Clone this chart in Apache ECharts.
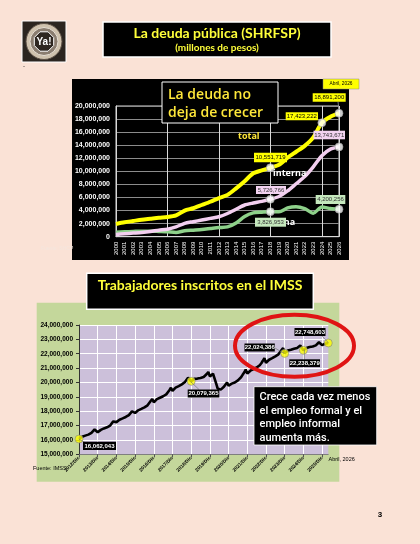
<!DOCTYPE html>
<html><head><meta charset="utf-8">
<script src="https://cdn.jsdelivr.net/npm/echarts@6/dist/echarts.min.js"></script>
<style>html,body{margin:0;padding:0;background:#FAE2D6;}#c{width:420px;height:544px;}</style>
</head><body><div id="c"></div>
<script>
// ---------- Chart 1 data: SHRFSP (millones de pesos), values in millions of the axis unit ----------
var years = ['2000','2001','2002','2003','2004','2005','2006','2007','2008','2009','2010','2011','2012','2013','2014','2015','2016','2017','2018','2019','2020','2021','2022','2023','2024','2025','2026'];
var deudaTotal   = [1.95,2.2,2.4,2.6,2.75,2.9,3.0,3.25,4.0,4.35,4.85,5.35,5.9,6.4,7.4,8.5,9.7,10.15,10.551719,11.0,12.1,13.0,13.9,15.2,17.423222,18.35,18.8912];
var deudaInterna = [0.35,0.45,0.55,0.65,0.8,1.0,1.15,1.5,2.05,2.3,2.55,2.8,3.05,3.55,4.2,4.85,5.15,5.4,5.726766,6.15,7.0,8.1,9.2,10.7,12.4,13.4,13.743671];
var deudaExterna = [0.7,0.75,0.8,0.85,0.85,0.8,0.75,0.65,0.9,1.0,1.1,1.25,1.4,1.5,2.1,3.1,3.65,3.75,3.826953,3.8,4.4,4.6,4.3,3.6,4.55,4.3,4.200256];
var deudaKeyYears  = ['2018','2018','2018','2024','2026','2026','2026'];
var deudaKeyValues = [10.551719,5.726766,3.826953,17.423222,18.8912,13.743671,4.200256];

// ---------- Chart 2 data: Trabajadores inscritos en el IMSS (millions) ----------
var imssYears = ['2012','2013','2014','2015','2016','2017','2018','2019','2020','2021','2022','2023','2024','2025','2026'];
var monthNames = ['Ene','Feb','Mar','Abr','May','Jun','Jul','Ago','Sep','Oct','Nov','Dic'];
var imssWorkers = [
 16.062043,
 16.14,16.22,16.27,16.30,16.33,16.37,16.40,16.49,16.58,16.73,16.82,16.53,
 16.60,16.70,16.76,16.80,16.83,16.88,16.91,17.00,17.12,17.29,17.40,17.24,
 17.30,17.41,17.47,17.50,17.54,17.60,17.64,17.73,17.83,17.99,18.10,17.88,
 17.96,18.06,18.10,18.16,18.20,18.27,18.31,18.41,18.53,18.71,18.85,18.62,
 18.71,18.84,18.90,18.94,18.98,19.04,19.09,19.17,19.25,19.46,19.63,19.42,
 19.53,19.64,19.72,19.75,19.82,19.87,19.93,20.03,20.14,20.33,20.46,20.079365,
 20.14,20.25,20.29,20.27,20.28,20.31,20.35,20.38,20.44,20.59,20.73,20.42,
 20.47,20.61,20.48,19.93,19.58,19.49,19.50,19.59,19.70,19.83,20.00,19.77,
 19.82,19.92,19.97,20.00,20.05,20.15,20.24,20.36,20.53,20.69,20.90,20.62,
 20.68,20.82,20.89,20.93,20.98,21.04,21.10,21.20,21.34,21.51,21.70,21.37,
 21.44,21.58,21.66,21.69,21.74,21.82,21.86,21.96,22.05,22.25,22.39,22.024386,
 22.10,22.22,22.26,22.27,22.30,22.34,22.35,22.40,22.45,22.57,22.65,22.238379,
 22.30,22.40,22.45,22.47,22.48,22.50,22.52,22.58,22.66,22.80,22.90,22.60,
 22.64,22.70,22.72,22.748603
];
var imssKeyMonths = ['2012/Dic','2018/Dic','2023/Dic','2024/Dic','2026/Abr'];
var imssKeyValues = [16.062043,20.079365,22.024386,22.238379,22.748603];

// build month category labels (Dec 2012 .. Apr 2026)
var imssMonths = ['2012/Dic'];
for (var yi = 1; yi < imssYears.length; yi++) {
  var last = (imssYears[yi] === '2026') ? 4 : 12;
  for (var m = 0; m < last; m++) imssMonths.push(imssYears[yi] + '/' + monthNames[m]);
}

function fmt(v){ return Math.round(v*1e6).toLocaleString('en-US'); }

var chart = echarts.init(document.getElementById('c'), null, {renderer:'canvas'});

function R(x,y,w,h,fill,stroke,lw,z){return {type:'rect',silent:true,z:z,shape:{x:x,y:y,width:w,height:h},style:{fill:fill,stroke:stroke||null,lineWidth:lw||0}};}
function T(x,y,text,font,fill,align,z){return {type:'text',silent:true,z:z,x:x,y:y,style:{text:text,font:font,fill:fill,textAlign:align||'left',textVerticalAlign:'middle'}};}
function L(x1,y1,x2,y2,stroke,lw,z){return {type:'line',silent:true,z:z,shape:{x1:x1,y1:y1,x2:x2,y2:y2},style:{stroke:stroke,lineWidth:lw}};}

var Y = '#FFFF3A';
var titleFont = 'bold 14px Lato, sans-serif';
var boxFont = '6px "Liberation Sans", Arial, sans-serif';
var boxFontB = 'bold 6px "Liberation Sans", Arial, sans-serif';
var pinkBox = '#F3D3F1', greenBox = '#C5E8BD';
var noteFont = '500 11px Roboto, sans-serif';

// octagon points
var oct = [];
for (var k = 0; k < 8; k++) { var a = Math.PI/8 + k*Math.PI/4; oct.push([44 + 10.5*Math.cos(a), 41.5 + 10.5*Math.sin(a)]); }

var graphics = [
  // logo
  R(22,21,44,41,'#2b2520','#ffffff',1,100),
  {type:'circle',silent:true,z:101,shape:{cx:44,cy:41.5,r:18},style:{fill:'#cfc2ae',stroke:'#5b4f45',lineWidth:1}},
  {type:'circle',silent:true,z:102,shape:{cx:44,cy:41.5,r:14},style:{fill:'#8a7d70',stroke:'#e8e0d5',lineWidth:1}},
  {type:'polygon',silent:true,z:103,shape:{points:oct},style:{fill:'#2e2721',stroke:'#ffffff',lineWidth:1}},
  T(44,42,'Ya!','bold 10px "Liberation Sans", Arial, sans-serif','#ffffff','center',104),
  T(23,66,'-','6px "Liberation Sans", sans-serif','#333','left',100),

  // title 1
  R(103,22,228,35,'#000000','#ffffff',1.5,100),
  T(217,33,'La deuda pública (SHRFSP)',titleFont,Y,'center',101),
  T(217,48,'(millones de pesos)','bold 10px Lato, sans-serif',Y,'center',101),

  // chart 1 panel (behind)
  R(72,79,277,181,'#000000',null,0,-5),
  T(41,249,'Fuente: SHCP','5px "Liberation Sans", sans-serif','#f4e6de','left',-4),

  // "La deuda no deja de crecer" box
  R(162,82,116,41,'#000000','#ffffff',1,100),
  T(168,95,'La deuda no','600 14px "Open Sans", sans-serif','#FFE83A','left',101),
  T(168,113,'deja de crecer','600 14px "Open Sans", sans-serif','#FFE83A','left',101),

  // series names
  T(238,136,'total','bold 9px "Open Sans", sans-serif','#FFE83A','left',100),
  T(273,173,'interna','bold 9px "Open Sans", sans-serif','#ffffff','left',100),
  T(260,222,'externa','bold 9px "Open Sans", sans-serif','#ffffff','left',100),

  // value labels chart 1
  R(254,152.7,33,9.6,'#FFFF00',null,0,110), T(270.5,157.6,fmt(deudaKeyValues[0]),boxFont,'#000','center',111),
  R(256,186,30,8,pinkBox,null,0,110),       T(271,190,fmt(deudaKeyValues[1]),boxFont,'#333','center',111),
  R(255,217.7,31,9,greenBox,null,0,110),    T(270.5,222.2,fmt(deudaKeyValues[2]),boxFont,'#333','center',111),
  R(285.7,112.3,32.3,8,'#FFFF00',null,0,110), T(301.8,116.3,fmt(deudaKeyValues[3]),boxFont,'#000','center',111),
  L(338,101.7,339,110,'#999',0.8,109),
  R(312.7,93.3,33,8.4,'#FFFF00',null,0,110), T(329.2,97.5,fmt(deudaKeyValues[4]),boxFont,'#000','center',111),
  R(313.5,130.7,31.5,8.6,pinkBox,null,0,110), T(329.2,135,fmt(deudaKeyValues[5]),boxFont,'#333','center',111),
  R(315.7,195,29.6,9,greenBox,null,0,110),  T(330.5,199.5,fmt(deudaKeyValues[6]),boxFont,'#333','center',111),
  R(323,79,36,10,'#FFFF00','#888',0.5,110), T(341,84,'Abril, 2026','4.8px "Liberation Sans", sans-serif','#000','center',111),

  // title 2
  R(86.7,273.3,226.6,36,'#000000','#ffffff',1.5,100),
  T(200,285,'Trabajadores inscritos en el IMSS',titleFont,Y,'center',101),

  // chart 2 green panel
  R(36.7,302.7,302.6,179,'#C4D79B',null,0,-5),
  T(33,468.3,'Fuente: IMSS','5.5px "Liberation Sans", sans-serif','#000','left',100),
  T(328.5,459,'Abril, 2026','5.5px "Liberation Sans", sans-serif','#000','left',100),

  // value labels chart 2
  L(79,439.3,86,443,'#777',0.7,109),
  R(83,441.7,33,8.3,'#000',null,0,110), T(99.5,446,fmt(imssKeyValues[0]),boxFontB,'#fff','center',111),
  L(190.7,381.7,199,389.5,'#777',0.7,109),
  R(187.7,389.5,31.6,8,'#000',null,0,110), T(203.5,393.6,fmt(imssKeyValues[1]),boxFontB,'#fff','center',111),
  L(274,347.5,284,353.3,'#777',0.7,109),
  R(244.5,343.5,30.3,8,'#000',null,0,110), T(259.7,347.6,fmt(imssKeyValues[2]),boxFontB,'#fff','center',111),
  L(304.3,349.3,304.3,359.3,'#777',0.7,109),
  R(289.3,359.3,30.7,7.8,'#000',null,0,110), T(304.7,363.3,fmt(imssKeyValues[3]),boxFontB,'#fff','center',111),
  L(322,336,328.3,342.7,'#777',0.7,109),
  R(294.5,328,31,8,'#000',null,0,110), T(310,332.1,fmt(imssKeyValues[4]),boxFontB,'#fff','center',111),

  // red ellipse
  {type:'ellipse',silent:true,z:120,shape:{cx:294.5,cy:345.8,rx:59.5,ry:31},style:{fill:null,stroke:'#E01414',lineWidth:4}},

  // note box
  R(254,386.7,122.7,58.3,'#000000','#ffffff',0.8,120),
  T(259.5,397,'Crece cada vez menos',noteFont,'#ffffff','left',121),
  T(259.5,410.8,'el empleo formal y el',noteFont,'#ffffff','left',121),
  T(259.5,424.4,'empleo informal',noteFont,'#ffffff','left',121),
  T(259.5,437.8,'aumenta más.',noteFont,'#ffffff','left',121),

  // page number
  T(380,514.5,'3','bold 8px "Liberation Sans", sans-serif','#000','center',100)
];

var every12 = function(idx){ return idx % 12 === 0; };

var option = {
  backgroundColor: '#FAE2D6',
  animation: false,
  grid: [
    {left:116, right:81, top:106, bottom:307.3, show:true, borderColor:'#d9d9d9', borderWidth:1, backgroundColor:'transparent'},
    {left:79, right:91.7, top:325, bottom:89.7, show:true, borderWidth:0, backgroundColor:'#CCC0DA'}
  ],
  xAxis: [
    {type:'category', gridIndex:0, data:years, boundaryGap:false,
     axisLine:{show:true, lineStyle:{color:'#d9d9d9'}}, axisTick:{show:false},
     axisLabel:{rotate:90, color:'#ffffff', fontSize:6, margin:5, interval:0, fontFamily:'"Liberation Sans", Arial'},
     splitLine:{show:true, interval:5, lineStyle:{color:'#d9d9d9', width:1}}},
    {type:'category', gridIndex:1, data:imssMonths, boundaryGap:false,
     axisLine:{show:true, lineStyle:{color:'#7f7f7f'}},
     axisTick:{show:true, interval:every12, length:3, lineStyle:{color:'#555'}},
     axisLabel:{rotate:45, color:'#000', fontSize:4.8, fontWeight:'bold', margin:3, interval:every12, fontFamily:'"Liberation Sans", Arial'},
     splitLine:{show:true, interval:every12, lineStyle:{color:'#ffffff', width:1}}}
  ],
  yAxis: [
    {type:'value', gridIndex:0, min:0, max:20, interval:2,
     axisLine:{show:true, lineStyle:{color:'#d9d9d9'}}, axisTick:{show:false},
     axisLabel:{color:'#ffffff', fontSize:7, fontWeight:'bold', margin:6, fontFamily:'"Liberation Sans", Arial', formatter:function(v){return fmt(v);}},
     splitLine:{show:true, lineStyle:{color:'#8c8c8c', width:1}}},
    {type:'value', gridIndex:1, min:15, max:24, interval:1,
     axisLine:{show:true, lineStyle:{color:'#333'}}, axisTick:{show:true, length:3, lineStyle:{color:'#333'}},
     axisLabel:{color:'#000', fontSize:6.5, fontWeight:'bold', margin:6, fontFamily:'"Liberation Sans", Arial', formatter:function(v){return fmt(v);}},
     splitLine:{show:true, lineStyle:{color:'#ffffff', width:1}}}
  ],
  series: [
    {type:'line', xAxisIndex:0, yAxisIndex:0, data:deudaExterna, showSymbol:false, smooth:0.25, lineStyle:{color:'#8ED18A', width:3.5}, z:3},
    {type:'line', xAxisIndex:0, yAxisIndex:0, data:deudaInterna, showSymbol:false, smooth:0.25, lineStyle:{color:'#F3CFF0', width:3.5}, z:4},
    {type:'line', xAxisIndex:0, yAxisIndex:0, data:deudaTotal, showSymbol:false, smooth:0.25, lineStyle:{color:'#FFFF00', width:4}, z:5},
    {type:'scatter', xAxisIndex:0, yAxisIndex:0, data:deudaKeyYears.map(function(y,i){return [y, deudaKeyValues[i]];}),
     symbolSize:8, itemStyle:{color:'#ffffff', borderColor:'#999', borderWidth:0.8}, z:6},
    {type:'line', xAxisIndex:1, yAxisIndex:1, data:imssWorkers, showSymbol:false, lineStyle:{color:'#000000', width:2.6}, z:3},
    {type:'scatter', xAxisIndex:1, yAxisIndex:1, data:imssKeyMonths.map(function(m,i){return [m, imssKeyValues[i]];}),
     symbolSize:8, itemStyle:{color:'#FFFF00', borderColor:'#888', borderWidth:0.8}, z:6}
  ],
  graphic: {elements: graphics}
};
chart.setOption(option);
</script>
</body></html>
